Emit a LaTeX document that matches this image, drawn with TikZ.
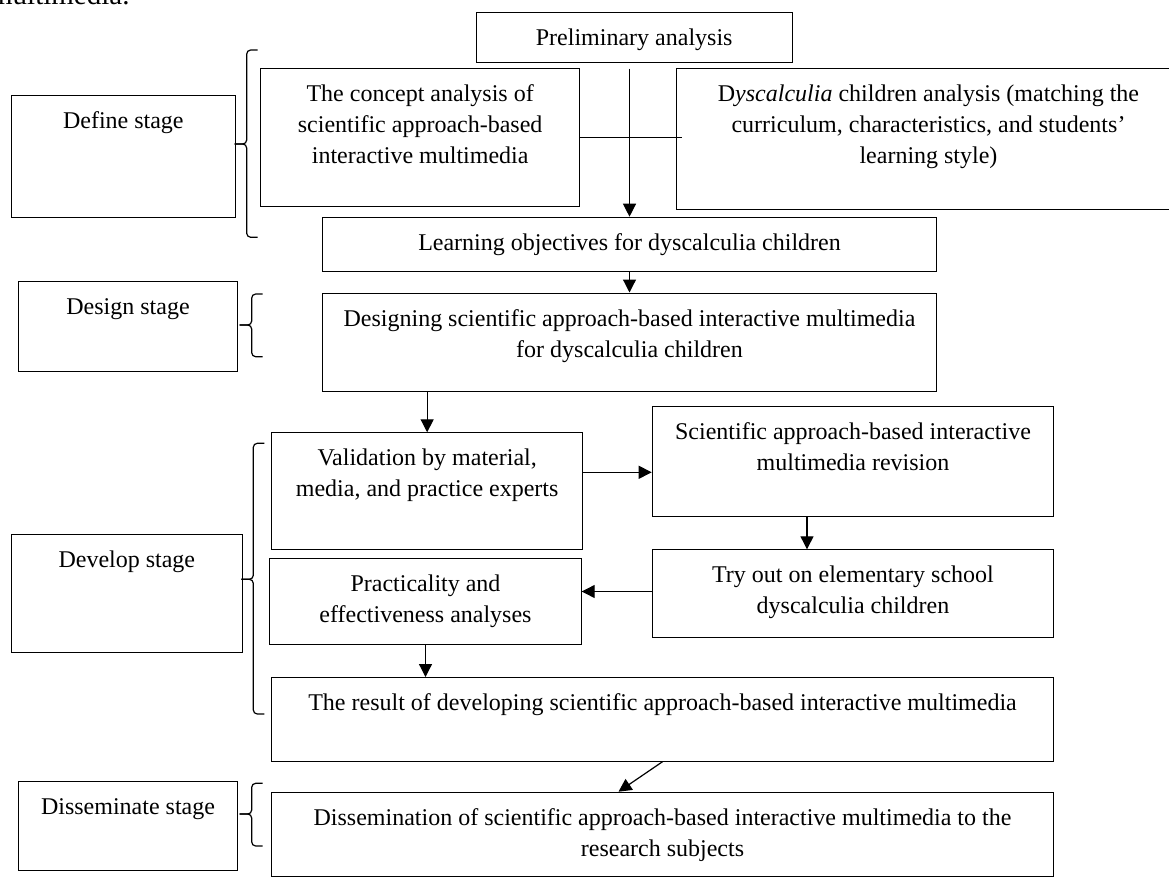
\documentclass[tikz,border=0pt]{standalone}
\usepackage{fontspec}
\setmainfont{Liberation Serif}
\usetikzlibrary{arrows.meta}
\tikzstyle{stagebox} = [rectangle, draw = black, line width = 1pt, inner sep = 0pt, anchor = north west]
\tikzstyle{stepbox} = [rectangle, draw = black, line width = 1pt, inner sep = 0pt, anchor = north west]
\tikzstyle{link} = [-{Triangle[width=13pt,length=13pt]}, line width = 1.2pt]
\tikzstyle{curly} = [line width = 1.2pt, rounded corners = 4pt]
\newcommand{\boxtxt}[3]{\parbox[c][#2pt][t]{#1pt}{\centering\rule{0pt}{33pt}#3}}

\begin{document}
\begin{tikzpicture}[x=1pt, y=-1pt, font=\fontsize{24}{31}\selectfont]
        \path [use as bounding box, fill=white] (0,0) rectangle (1169,878);
        \node (caption) [anchor=base east, font=\fontsize{29}{34}\selectfont] at (133,5) {multimedia.};
        % stages
        \node (s-define) [stagebox] at (11,95) {\boxtxt{223.7}{121.7}{Define stage}};
        \node (s-design) [stagebox] at (18.3,281) {\boxtxt{218.4}{89.7}{Design stage}};
        \node (s-develop) [stagebox] at (11,534.3) {\boxtxt{230.7}{117.4}{Develop stage}};
        \node (s-dissem) [stagebox] at (18.3,780.7) {\boxtxt{218.4}{89.3}{Disseminate stage}};
        % steps
        \node (prelim) [stepbox] at (475.7,12.3) {\boxtxt{316}{49.4}{Preliminary analysis}};
        \node (concept) [stepbox] at (260.3,67.7) {\boxtxt{318.7}{138}{The concept analysis of\\scientific approach-based\\interactive multimedia}};
        \node (dysc) [stepbox] at (676,67.7) {\boxtxt{504}{141.6}{D\textit{yscalculia} children analysis (matching the\\curriculum, characteristics, and students'\\learning style)}};
        \node (learn) [stepbox] at (322.3,216.7) {\boxtxt{613.4}{54.3}{Learning objectives for dyscalculia children}};
        \node (design) [stepbox] at (322.3,292.5) {\boxtxt{613.4}{98}{Designing scientific approach-based interactive multimedia\\for dyscalculia children}};
        \node (valid) [stepbox] at (271,432.3) {\boxtxt{311.3}{117}{Validation by material,\\media, and practice experts}};
        \node (sci) [stepbox] at (651.7,406) {\boxtxt{401.6}{109.7}{Scientific approach-based interactive\\multimedia revision}};
        \node (try) [stepbox] at (651.7,549.3) {\boxtxt{401.6}{87.4}{Try out on elementary school\\dyscalculia children}};
        \node (pract) [stepbox] at (269.3,558.3) {\boxtxt{311.4}{85.7}{Practicality and\\effectiveness analyses}};
        \node (result) [stepbox] at (271,677) {\boxtxt{782}{83.7}{The result of developing scientific approach-based interactive multimedia}};
        \node (dissem) [stepbox] at (271,791.7) {\boxtxt{782}{84.3}{Dissemination of scientific approach-based interactive multimedia to the\\research subjects}};
        % connectors
        \draw [link] ([yshift=-6pt]prelim.south -| learn.north) -- (learn.north);
        \draw (concept.east) -- ([xshift=6pt]concept.east -| dysc.west);
        \draw [link] (learn) -- (design);
        \draw [link] (design.south) -| (valid.north);
        \draw [link] ([yshift=19pt]valid.east) -- ([yshift=19pt]valid.east -| sci.west);
        \draw [link] ([xshift=-46pt]sci.south) -- ([xshift=-46pt]sci.south |- try.north);
        \draw [link] ([yshift=2pt]try.west) -- ([yshift=2pt]try.west -| pract.east);
        \draw [link] (pract.south) -- (pract.south |- result.north);
        \draw [link] (result.south) -- ([xshift=-44pt]dissem.north);
        % braces
        \foreach \bx/\ta/\tm/\tb in {246.7/50/144/237.3, 251.7/294/325/356.7, 253.3/443.3/579.3/714, 251.7/783.3/814/846} {
            \draw [curly] (\bx+11,\ta) -- (\bx,\ta) -- (\bx,\tm) -- (\bx-12,\tm);
            \draw [curly] (\bx-12,\tm) -- (\bx,\tm) -- (\bx,\tb) -- (\bx+11,\tb);
        }
\end{tikzpicture}
\end{document}
